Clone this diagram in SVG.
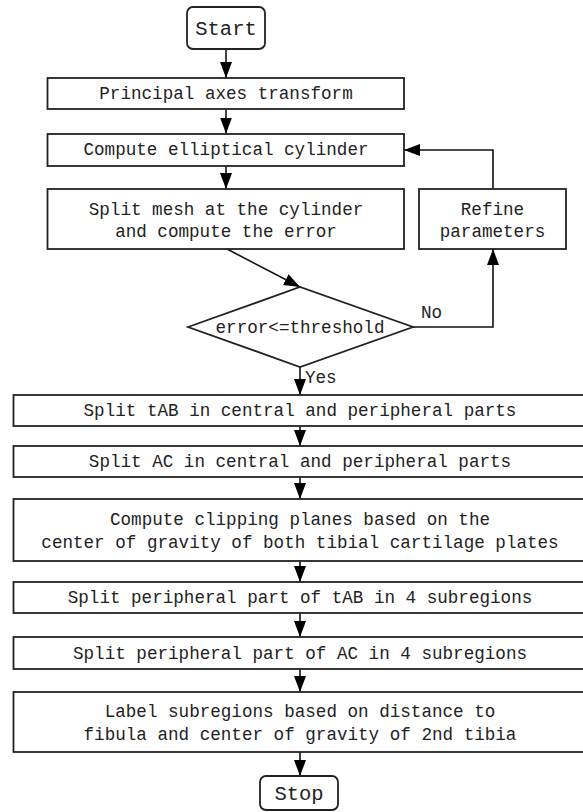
<svg xmlns="http://www.w3.org/2000/svg" width="583" height="812" viewBox="0 0 583 812">
<style>
.box{fill:#fff;stroke:#222;stroke-width:1.8}
.t{font-family:"Liberation Mono","DejaVu Sans Mono",monospace;font-size:17.6px;fill:#222;text-anchor:middle}
.big{font-size:20.5px}
.lbl{text-anchor:start}
.c{fill:none;stroke:#111;stroke-width:1.6}
</style>
<defs>
<marker id="ah" viewBox="0 0 16 12" refX="16" refY="6" markerWidth="16" markerHeight="12" markerUnits="userSpaceOnUse" orient="auto">
<path d="M0,0 L16,6 L0,12 Z" fill="#000"/>
</marker>
</defs>
<rect width="583" height="812" fill="#fff"/>
<g id="connectors">
<line class="c" x1="226" y1="49" x2="226" y2="78" marker-end="url(#ah)"/>
<line class="c" x1="226" y1="109" x2="226" y2="133.5" marker-end="url(#ah)"/>
<line class="c" x1="226" y1="166" x2="226" y2="189" marker-end="url(#ah)"/>
<line class="c" x1="227" y1="249" x2="300" y2="287" marker-end="url(#ah)"/>
<polyline class="c" points="413,327 493,327 493,249" marker-end="url(#ah)"/>
<polyline class="c" points="493,189 493,150 404,150" marker-end="url(#ah)"/>
<line class="c" x1="300" y1="367" x2="300" y2="395" marker-end="url(#ah)"/>
<line class="c" x1="300" y1="426" x2="300" y2="446" marker-end="url(#ah)"/>
<line class="c" x1="300" y1="477" x2="300" y2="499" marker-end="url(#ah)"/>
<line class="c" x1="300" y1="561" x2="300" y2="582" marker-end="url(#ah)"/>
<line class="c" x1="300" y1="613" x2="300" y2="637" marker-end="url(#ah)"/>
<line class="c" x1="300" y1="669" x2="300" y2="692" marker-end="url(#ah)"/>
<line class="c" x1="300" y1="752" x2="300" y2="776" marker-end="url(#ah)"/>
<text class="t lbl" x="421" y="318">No</text>
<text class="t lbl" x="305" y="383">Yes</text>
</g>
<g id="start">
<rect class="box" x="187" y="7" width="78" height="42" rx="6"/>
<text class="t big" x="226" y="35">Start</text>
</g>
<g id="principal">
<rect class="box" x="47.5" y="78" width="356.5" height="31"/>
<text class="t" x="226" y="99">Principal axes transform</text>
</g>
<g id="compute">
<rect class="box" x="47.5" y="134" width="356.5" height="32"/>
<text class="t" x="226" y="155">Compute elliptical cylinder</text>
</g>
<g id="splitmesh">
<rect class="box" x="47.5" y="189" width="356.5" height="60"/>
<text class="t" x="226" y="214.5">Split mesh at the cylinder</text>
<text class="t" x="226" y="237">and compute the error</text>
</g>
<g id="refine">
<rect class="box" x="419" y="189" width="147" height="60"/>
<text class="t" x="492.5" y="214.5">Refine</text>
<text class="t" x="492.5" y="237">parameters</text>
</g>
<g id="decision">
<polygon class="box" points="188,327 300,287 413,327 300,367"/>
<text class="t" x="300" y="333">error&lt;=threshold</text>
</g>
<g id="splittab">
<rect class="box" x="13.5" y="395" width="574" height="31"/>
<text class="t" x="300" y="416">Split tAB in central and peripheral parts</text>
</g>
<g id="splitac">
<rect class="box" x="13.5" y="446" width="574" height="31"/>
<text class="t" x="300" y="467">Split AC in central and peripheral parts</text>
</g>
<g id="clipping">
<rect class="box" x="13.5" y="499" width="574" height="62"/>
<text class="t" x="300" y="525">Compute clipping planes based on the</text>
<text class="t" x="300" y="547.5">center of gravity of both tibial cartilage plates</text>
</g>
<g id="periphtab">
<rect class="box" x="13.5" y="582" width="574" height="31"/>
<text class="t" x="300" y="603">Split peripheral part of tAB in 4 subregions</text>
</g>
<g id="periphac">
<rect class="box" x="13.5" y="637" width="574" height="32"/>
<text class="t" x="300" y="658.5">Split peripheral part of AC in 4 subregions</text>
</g>
<g id="label">
<rect class="box" x="13.5" y="692" width="574" height="60"/>
<text class="t" x="300" y="717">Label subregions based on distance to</text>
<text class="t" x="300" y="739.5">fibula and center of gravity of 2nd tibia</text>
</g>
<g id="stop">
<rect class="box" x="260" y="776" width="78" height="34" rx="6"/>
<text class="t big" x="299" y="800">Stop</text>
</g>
</svg>
